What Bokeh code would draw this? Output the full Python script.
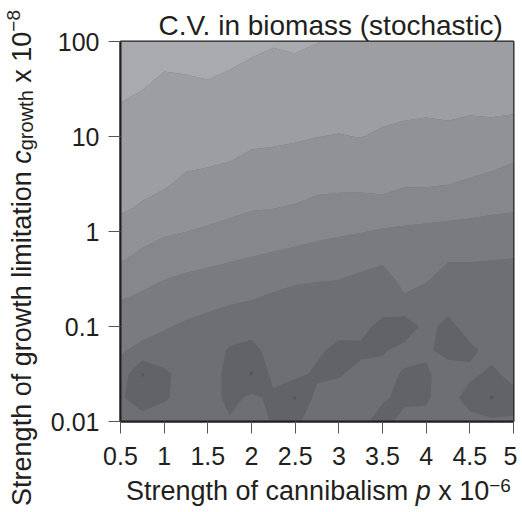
import numpy as np
from bokeh.plotting import figure
from bokeh.models import FixedTicker, Range1d, Div
from bokeh.layouts import row, column
from bokeh.embed import file_html
from bokeh.resources import INLINE

# ---- data ----
p_cannibalism = [0.5, 0.75, 1.0, 1.25, 1.5, 1.75, 2.0, 2.25, 2.5, 2.75,
                 3.0, 3.25, 3.5, 3.75, 4.0, 4.25, 4.5, 4.75, 5.0]
log10_c_growth_top_to_bottom = [2.0, 1.75, 1.5, 1.25, 1.0, 0.75, 0.5, 0.25, 0.0,
                                -0.25, -0.5, -0.75, -1.0, -1.25, -1.5, -1.75, -2.0]
# C.V. level (band index) on the grid, rows from c=100 down to c=0.01
cv_rows = [
    [0.0, 0.08, 0.26, 0.17, 0.08, 0.2, 0.33, 0.44, 0.37, 0.48, 0.61, 0.65, 0.7, 0.75, 0.79, 0.81, 0.86, 0.87, 0.91],
    [0.18, 0.29, 0.45, 0.41, 0.34, 0.45, 0.58, 0.67, 0.63, 0.75, 0.84, 0.86, 0.92, 0.96, 1.01, 1.01, 1.06, 1.06, 1.1],
    [0.38, 0.49, 0.64, 0.64, 0.60, 0.71, 0.84, 0.91, 0.89, 1.0, 1.06, 1.07, 1.13, 1.18, 1.22, 1.2, 1.26, 1.24, 1.28],
    [0.59, 0.70, 0.83, 0.88, 0.87, 0.97, 1.09, 1.14, 1.15, 1.24, 1.29, 1.28, 1.35, 1.4, 1.44, 1.4, 1.46, 1.43, 1.47],
    [0.79, 0.91, 1.03, 1.12, 1.13, 1.23, 1.34, 1.37, 1.41, 1.49, 1.53, 1.48, 1.6, 1.7, 1.74, 1.7, 1.81, 1.8, 1.93],
    [0.99, 1.11, 1.22, 1.35, 1.39, 1.48, 1.63, 1.67, 1.75, 1.87, 1.92, 1.9, 1.93, 2.05, 2.07, 2.08, 2.18, 2.26, 2.45],
    [1.2, 1.32, 1.41, 1.66, 1.75, 1.88, 2.03, 2.08, 2.15, 2.28, 2.32, 2.31, 2.27, 2.41, 2.41, 2.48, 2.61, 2.78, 2.93],
    [1.4, 1.57, 1.81, 2.08, 2.17, 2.29, 2.43, 2.48, 2.57, 2.74, 2.81, 2.84, 2.79, 3.01, 3.06, 3.16, 3.24, 3.34, 3.4],
    [1.77, 2.12, 2.37, 2.49, 2.61, 2.77, 2.93, 3.02, 3.13, 3.27, 3.37, 3.46, 3.6, 3.66, 3.72, 3.77, 3.81, 3.87, 3.91],
    [2.31, 2.67, 2.92, 3.08, 3.2, 3.33, 3.46, 3.58, 3.71, 3.83, 3.92, 4.06, 4.23, 4.25, 4.27, 4.33, 4.34, 4.39, 4.43],
    [2.93, 3.24, 3.48, 3.65, 3.77, 3.9, 4.01, 4.17, 4.34, 4.43, 4.48, 4.68, 4.88, 4.2, 4.4, 4.9, 4.89, 4.92, 4.97],
    [3.55, 3.75, 3.95, 4.14, 4.29, 4.45, 4.56, 4.77, 4.96, 5.0, 5.0, 5.0, 5.0, 4.7, 5.0, 5.1, 5.0, 5.0, 5.0],
    [3.97, 4.22, 4.42, 4.63, 4.81, 5.0, 5.0, 5.0, 5.0, 5.0, 5.1, 5.2, 5.8, 6.1, 5.2, 5.8, 5.1, 5.0, 5.0],
    [4.41, 4.70, 4.9, 5.0, 5.0, 5.6, 5.9, 5.0, 5.0, 5.3, 5.8, 5.7, 5.6, 5.2, 5.4, 5.7, 5.7, 5.2, 5.3],
    [4.85, 6.6, 5.7, 5.1, 5.0, 5.8, 6.6, 5.2, 5.2, 5.7, 5.6, 5.2, 5.2, 5.6, 5.6, 5.2, 5.3, 5.7, 5.2],
    [5.4, 5.9, 5.6, 5.2, 5.0, 5.8, 5.3, 5.7, 6.6, 5.2, 5.0, 5.0, 5.4, 5.7, 5.6, 5.1, 5.9, 6.6, 5.8],
    [5.2, 5.2, 5.1, 5.0, 5.0, 5.4, 5.0, 5.6, 5.7, 5.0, 5.1, 5.3, 5.8, 5.2, 5.3, 5.0, 5.2, 5.3, 5.4],
]
levels = [-1.0, 0.5, 1.5, 2.5, 3.5, 4.5, 5.5, 6.5, 8.0]
band_colors = ["#a9aaae", "#9d9ea2", "#919296", "#86878b",
               "#7a7b7f", "#6e6f73", "#626367", "#55565a"]

x_tick_values = [0.5, 1, 1.5, 2, 2.5, 3, 3.5, 4, 4.5, 5]
x_tick_labels = ["0.5", "1", "1.5", "2", "2.5", "3", "3.5", "4", "4.5", "5"]
y_tick_values = [-2, -1, 0, 1, 2]
y_tick_labels = ["0.01", "0.1", "1", "10", "100"]

title_text = "C.V. in biomass (stochastic)"
x_label_html = "Strength of cannibalism <i>p</i> x 10<sup>\u22126</sup>"
y_label_html = "Strength of growth limitation <i>c</i><sub>growth</sub> x 10<sup>\u22128</sup>"

TXT = "#231f20"
FONT = "Liberation Sans"

# ---- figure ----
p = figure(output_backend="svg", toolbar_location=None,
           frame_width=393, frame_height=380,
           x_range=Range1d(0.5, 5.0), y_range=Range1d(-2.0, 2.0),
           min_border_left=70, min_border_right=4,
           min_border_top=41, min_border_bottom=56,
           background_fill_color="#6e6f73", border_fill_color="white")

x = np.array(p_cannibalism)
y = np.array(log10_c_growth_top_to_bottom)[::-1]
z = np.array(cv_rows)[::-1, :]
p.contour(x=x, y=y, z=z, levels=levels, fill_color=band_colors, line_color=None)

p.grid.visible = False
p.outline_line_color = TXT
p.outline_line_width = 2

p.title.text = title_text
p.title.text_font = FONT
p.title.text_font_size = "28px"
p.title.text_font_style = "normal"
p.title.text_color = TXT
p.title.align = "left"
p.title.offset = 38
p.title.standoff = 2

for ax in (p.xaxis[0], p.yaxis[0]):
    ax.axis_line_color = TXT
    ax.axis_line_width = 2
    ax.major_tick_out = 12
    ax.major_tick_in = 0
    ax.major_tick_line_color = "#555555"
    ax.minor_tick_line_color = None
    ax.major_label_text_font = FONT
    ax.major_label_text_font_size = "25px"
    ax.major_label_text_color = TXT

p.xaxis.ticker = FixedTicker(ticks=x_tick_values)
p.xaxis.major_label_overrides = dict(zip(x_tick_values, x_tick_labels))
p.xaxis.major_label_standoff = 13
p.yaxis.ticker = FixedTicker(ticks=y_tick_values)
p.yaxis.major_label_overrides = dict(zip(y_tick_values, y_tick_labels))
p.yaxis.major_label_standoff = 9

# ---- axis titles as rich text (italic symbol, sub/superscripts) ----
base = f"font-family:'{FONT}';font-size:27px;line-height:27px;white-space:nowrap;color:{TXT};"
sub_css = "font-size:20px;line-height:0;vertical-align:-0.22em;"
sup_css = "font-size:19px;line-height:0;vertical-align:0.42em;"

def rich(html):
    return (html.replace("<sub>", f'<sub style="{sub_css}">')
                .replace("<sup>", f'<sup style="{sup_css}">'))

y_div = Div(width=47, height=507, margin=0, disable_math=True,
            styles={"overflow": "visible"},
            text=('<div style="position:relative;width:47px;height:506px;">'
                  f'<div style="position:absolute;left:9px;bottom:0;writing-mode:vertical-rl;'
                  f'transform:rotate(180deg);{base}">{rich(y_label_html)}</div></div>'))
x_div = Div(width=467, height=30, margin=0, disable_math=True,
            styles={"overflow": "visible"},
            text=('<div style="position:relative;width:467px;height:30px;">'
                  f'<div style="position:absolute;left:79px;top:1px;{base}">'
                  f'{rich(x_label_html)}</div></div>'))

layout = row(y_div, column(p, x_div, spacing=0), spacing=0)

open("out.html", "w").write(file_html(layout, INLINE))
